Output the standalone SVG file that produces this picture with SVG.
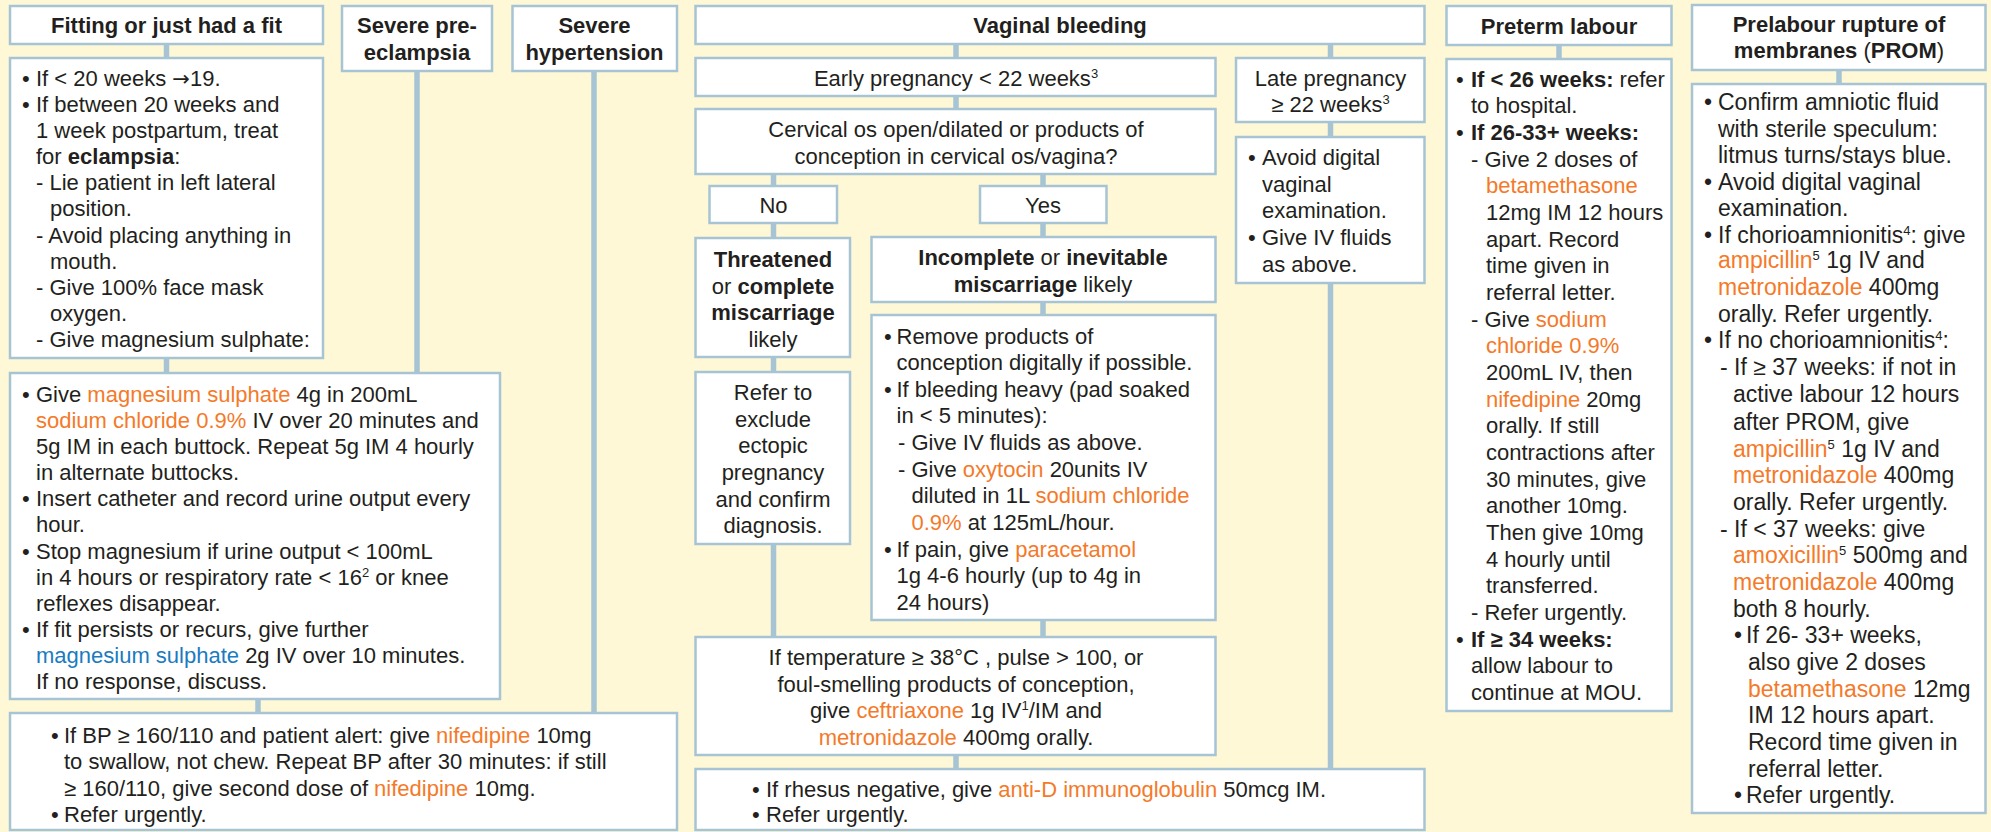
<svg xmlns="http://www.w3.org/2000/svg" width="1991" height="832" viewBox="0 0 1991 832">
<style>
.bg{fill:#fff8d6}
.bx{fill:#ffffff;stroke:#a6c4d4;stroke-width:2.5}
.cn{stroke:#a6c4d4;stroke-width:5.5;fill:none}
text{font-family:"Liberation Sans",Arial,sans-serif;font-size:22px;fill:#231f20}
.c{text-anchor:middle}
.b{font-weight:bold}
.o{fill:#f47a2a}
.u{fill:#1b7bc0}
.p{font-size:23px}
.ar{font-family:"DejaVu Sans",sans-serif;font-size:21px}
</style>
<rect class="bg" x="0" y="0" width="1991" height="832"/>
<g id="connectors">
<line class="cn" x1="166.5" y1="44" x2="166.5" y2="58"/>
<line class="cn" x1="166.5" y1="358" x2="166.5" y2="373"/>
<line class="cn" x1="417" y1="71" x2="417" y2="373"/>
<line class="cn" x1="594" y1="71" x2="594" y2="713"/>
<line class="cn" x1="258" y1="699" x2="258" y2="713"/>
<line class="cn" x1="956" y1="44" x2="956" y2="58"/>
<line class="cn" x1="1330.5" y1="44" x2="1330.5" y2="58"/>
<line class="cn" x1="956" y1="96" x2="956" y2="109"/>
<line class="cn" x1="773.5" y1="174" x2="773.5" y2="186"/>
<line class="cn" x1="1043" y1="174" x2="1043" y2="186"/>
<line class="cn" x1="773.5" y1="223" x2="773.5" y2="238"/>
<line class="cn" x1="1043" y1="223" x2="1043" y2="237"/>
<line class="cn" x1="773.5" y1="357" x2="773.5" y2="372"/>
<line class="cn" x1="1043" y1="302" x2="1043" y2="315"/>
<line class="cn" x1="773.5" y1="544" x2="773.5" y2="637"/>
<line class="cn" x1="1043" y1="620" x2="1043" y2="637"/>
<line class="cn" x1="956" y1="755" x2="956" y2="769"/>
<line class="cn" x1="1330.5" y1="122" x2="1330.5" y2="137"/>
<line class="cn" x1="1330.5" y1="283" x2="1330.5" y2="769"/>
<line class="cn" x1="1559" y1="45" x2="1559" y2="59"/>
<line class="cn" x1="1839" y1="70" x2="1839" y2="84"/>
</g>
<g id="fit-head">
<rect class="bx" x="10" y="6" width="313" height="38"/>
<text class="c b" x="166.5" y="33">Fitting or just had a fit</text>
</g>
<g id="fit-text">
<rect class="bx" x="10" y="58" width="313" height="300"/>
<text x="22" y="86">•</text><text x="36" y="86">If &lt; 20 weeks <tspan class="ar">→</tspan>19.</text>
<text x="22" y="112">•</text><text x="36" y="112">If between 20 weeks and</text>
<text x="36" y="138">1 week postpartum, treat</text>
<text x="36" y="164">for <tspan class="b">eclampsia</tspan>:</text>
<text x="36" y="190">- Lie patient in left lateral</text>
<text x="50" y="216">position.</text>
<text x="36" y="243">- Avoid placing anything in</text>
<text x="50" y="269">mouth.</text>
<text x="36" y="295">- Give 100% face mask</text>
<text x="50" y="321">oxygen.</text>
<text x="36" y="347">- Give magnesium sulphate:</text>
</g>
<g id="pre-eclampsia">
<rect class="bx" x="342" y="6" width="150" height="65"/>
<text class="c b" x="417" y="33">Severe pre-</text>
<text class="c b" x="417" y="60">eclampsia</text>
</g>
<g id="hypertension">
<rect class="bx" x="512.5" y="6" width="164.5" height="65"/>
<text class="c b" x="594.5" y="33">Severe</text>
<text class="c b" x="594.5" y="60">hypertension</text>
</g>
<g id="magnesium">
<rect class="bx" x="10" y="373" width="490" height="326"/>
<text x="22" y="402">•</text><text x="36" y="402">Give <tspan class="o">magnesium sulphate</tspan> 4g in 200mL</text>
<text x="36" y="428"><tspan class="o">sodium chloride 0.9%</tspan> IV over 20 minutes and</text>
<text x="36" y="454">5g IM in each buttock. Repeat 5g IM 4 hourly</text>
<text x="36" y="480">in alternate buttocks.</text>
<text x="22" y="506">•</text><text x="36" y="506">Insert catheter and record urine output every</text>
<text x="36" y="532">hour.</text>
<text x="22" y="559">•</text><text x="36" y="559">Stop magnesium if urine output &lt; 100mL</text>
<text x="36" y="585">in 4 hours or respiratory rate &lt; 16<tspan dy="-8" font-size="13">2</tspan><tspan dy="8"> or knee</tspan></text>
<text x="36" y="611">reflexes disappear.</text>
<text x="22" y="637">•</text><text x="36" y="637">If fit persists or recurs, give further</text>
<text x="36" y="663"><tspan class="u">magnesium sulphate</tspan> 2g IV over 10 minutes.</text>
<text x="36" y="689">If no response, discuss.</text>
</g>
<g id="bp">
<rect class="bx" x="10" y="713" width="667" height="117"/>
<text x="51" y="742.5">•</text><text x="64" y="742.5">If BP ≥ 160/110 and patient alert: give <tspan class="o">nifedipine</tspan> 10mg</text>
<text x="64" y="769">to swallow, not chew. Repeat BP after 30 minutes: if still</text>
<text x="64" y="795.5">≥ 160/110, give second dose of <tspan class="o">nifedipine</tspan> 10mg.</text>
<text x="51" y="822">•</text><text x="64" y="822">Refer urgently.</text>
</g>
<g id="vaginal-bleeding">
<rect class="bx" x="695.5" y="6" width="729" height="38"/>
<text class="c b" x="1060" y="33">Vaginal bleeding</text>
</g>
<g id="early">
<rect class="bx" x="695.5" y="58" width="520" height="38"/>
<text class="c" x="956" y="86">Early pregnancy &lt; 22 weeks<tspan dy="-8" font-size="13">3</tspan></text>
</g>
<g id="cervical">
<rect class="bx" x="695.5" y="109" width="520" height="65"/>
<text class="c" x="956" y="137">Cervical os open/dilated or products of</text>
<text class="c" x="956" y="163.5">conception in cervical os/vagina?</text>
</g>
<g id="late">
<rect class="bx" x="1236" y="58" width="188.5" height="64"/>
<text class="c" x="1330.5" y="86">Late pregnancy</text>
<text class="c" x="1330.5" y="112">≥ 22 weeks<tspan dy="-8" font-size="13">3</tspan></text>
</g>
<g id="late-text">
<rect class="bx" x="1236" y="137" width="188.5" height="146"/>
<text x="1248" y="165">•</text><text x="1262" y="165">Avoid digital</text>
<text x="1262" y="191.5">vaginal</text>
<text x="1262" y="218">examination.</text>
<text x="1248" y="245">•</text><text x="1262" y="245">Give IV fluids</text>
<text x="1262" y="271.5">as above.</text>
</g>
<g id="no">
<rect class="bx" x="709.5" y="186" width="127.5" height="37"/>
<text class="c" x="773.5" y="213">No</text>
</g>
<g id="yes">
<rect class="bx" x="980" y="186" width="126.5" height="37"/>
<text class="c" x="1043" y="213">Yes</text>
</g>
<g id="threatened">
<rect class="bx" x="695.5" y="238" width="154.5" height="119"/>
<text class="c b" x="773" y="266.5">Threatened</text>
<text class="c" x="773" y="293.5">or <tspan class="b">complete</tspan></text>
<text class="c b" x="773" y="320">miscarriage</text>
<text class="c" x="773" y="346.5">likely</text>
</g>
<g id="incomplete">
<rect class="bx" x="871.5" y="237" width="344" height="65"/>
<text class="c" x="1043" y="265"><tspan class="b">Incomplete</tspan> or <tspan class="b">inevitable</tspan></text>
<text class="c" x="1043" y="291.5"><tspan class="b">miscarriage</tspan> likely</text>
</g>
<g id="incomplete-text">
<rect class="bx" x="871.5" y="315" width="344" height="305"/>
<text x="884" y="343.5">•</text><text x="896.5" y="343.5">Remove products of</text>
<text x="896.5" y="370">conception digitally if possible.</text>
<text x="884" y="396.5">•</text><text x="896.5" y="396.5">If bleeding heavy (pad soaked</text>
<text x="896.5" y="423">in &lt; 5 minutes):</text>
<text x="898" y="450">- Give IV fluids as above.</text>
<text x="898" y="476.5">- Give <tspan class="o">oxytocin</tspan> 20units IV</text>
<text x="911.5" y="503">diluted in 1L <tspan class="o">sodium chloride</tspan></text>
<text x="911.5" y="529.5"><tspan class="o">0.9%</tspan> at 125mL/hour.</text>
<text x="884" y="556.5">•</text><text x="896.5" y="556.5">If pain, give <tspan class="o">paracetamol</tspan></text>
<text x="896.5" y="583">1g 4-6 hourly (up to 4g in</text>
<text x="896.5" y="609.5">24 hours)</text>
</g>
<g id="refer">
<rect class="bx" x="695.5" y="372" width="154.5" height="172"/>
<text class="c" x="773" y="400">Refer to</text>
<text class="c" x="773" y="426.5">exclude</text>
<text class="c" x="773" y="453">ectopic</text>
<text class="c" x="773" y="480">pregnancy</text>
<text class="c" x="773" y="506.5">and confirm</text>
<text class="c" x="773" y="533">diagnosis.</text>
</g>
<g id="temperature">
<rect class="bx" x="695.5" y="637" width="520" height="118"/>
<text class="c" x="956" y="665">If temperature ≥ 38°C , pulse &gt; 100, or</text>
<text class="c" x="956" y="691.5">foul-smelling products of conception,</text>
<text class="c" x="956" y="718">give <tspan class="o">ceftriaxone</tspan> 1g IV<tspan dy="-8" font-size="13">1</tspan><tspan dy="8">/IM and</tspan></text>
<text class="c" x="956" y="745"><tspan class="o">metronidazole</tspan> 400mg orally.</text>
</g>
<g id="rhesus">
<rect class="bx" x="695.5" y="769" width="729" height="61"/>
<text x="752" y="797">•</text><text x="766" y="797">If rhesus negative, give <tspan class="o">anti-D immunoglobulin</tspan> 50mcg IM.</text>
<text x="752" y="822">•</text><text x="766" y="822">Refer urgently.</text>
</g>
<g id="preterm-head">
<rect class="bx" x="1446.5" y="6" width="225" height="39"/>
<text class="c b" x="1559" y="34">Preterm labour</text>
</g>
<g id="preterm-text">
<rect class="bx" x="1446.5" y="59" width="225" height="652"/>
<text x="1456" y="86.7">•</text><text x="1471" y="86.7"><tspan class="b">If &lt; 26 weeks:</tspan> refer</text>
<text x="1471" y="113.3">to hospital.</text>
<text x="1456" y="140">•</text><text class="b" x="1471" y="140">If 26-33+ weeks:</text>
<text x="1471" y="166.7">- Give 2 doses of</text>
<text x="1486" y="193.3" class="o">betamethasone</text>
<text x="1486" y="220">12mg IM 12 hours</text>
<text x="1486" y="246.7">apart. Record</text>
<text x="1486" y="273.3">time given in</text>
<text x="1486" y="300">referral letter.</text>
<text x="1471" y="326.7">- Give <tspan class="o">sodium</tspan></text>
<text x="1486" y="353.3" class="o">chloride 0.9%</text>
<text x="1486" y="380">200mL IV, then</text>
<text x="1486" y="406.7"><tspan class="o">nifedipine</tspan> 20mg</text>
<text x="1486" y="433.3">orally. If still</text>
<text x="1486" y="460">contractions after</text>
<text x="1486" y="486.7">30 minutes, give</text>
<text x="1486" y="513.3">another 10mg.</text>
<text x="1486" y="540">Then give 10mg</text>
<text x="1486" y="566.7">4 hourly until</text>
<text x="1486" y="593.3">transferred.</text>
<text x="1471" y="620">- Refer urgently.</text>
<text x="1456" y="646.7">•</text><text class="b" x="1471" y="646.7">If ≥ 34 weeks:</text>
<text x="1471" y="673.3">allow labour to</text>
<text x="1471" y="700">continue at MOU.</text>
</g>
<g id="prom-head">
<rect class="bx" x="1692" y="5" width="293.5" height="65"/>
<text class="c b" x="1839" y="31.7">Prelabour rupture of</text>
<text class="c" x="1839" y="58.3"><tspan class="b">membranes</tspan> (<tspan class="b">PROM</tspan>)</text>
</g>
<g id="prom-text">
<rect class="bx" x="1692" y="84" width="293.5" height="729"/>
<text class="p" x="1704" y="110">•</text><text class="p" x="1718" y="110">Confirm amniotic fluid</text>
<text class="p" x="1718" y="136.7">with sterile speculum:</text>
<text class="p" x="1718" y="163.3">litmus turns/stays blue.</text>
<text class="p" x="1704" y="190">•</text><text class="p" x="1718" y="190">Avoid digital vaginal</text>
<text class="p" x="1718" y="216">examination.</text>
<text class="p" x="1704" y="242.7">•</text><text class="p" x="1718" y="242.7">If chorioamnionitis<tspan dy="-8" font-size="13">4</tspan><tspan dy="8">: give</tspan></text>
<text class="p" x="1718" y="268.3"><tspan class="o">ampicillin</tspan><tspan dy="-8" font-size="13">5</tspan><tspan dy="8"> 1g IV and</tspan></text>
<text class="p" x="1718" y="295"><tspan class="o">metronidazole</tspan> 400mg</text>
<text class="p" x="1718" y="321.7">orally. Refer urgently.</text>
<text class="p" x="1704" y="348.3">•</text><text class="p" x="1718" y="348.3">If no chorioamnionitis<tspan dy="-8" font-size="13">4</tspan><tspan dy="8">:</tspan></text>
<text class="p" x="1720" y="375">- If ≥ 37 weeks: if not in</text>
<text class="p" x="1733" y="401.7">active labour 12 hours</text>
<text class="p" x="1733" y="430">after PROM, give</text>
<text class="p" x="1733" y="456.7"><tspan class="o">ampicillin</tspan><tspan dy="-8" font-size="13">5</tspan><tspan dy="8"> 1g IV and</tspan></text>
<text class="p" x="1733" y="483.3"><tspan class="o">metronidazole</tspan> 400mg</text>
<text class="p" x="1733" y="510">orally. Refer urgently.</text>
<text class="p" x="1720" y="536.7">- If &lt; 37 weeks: give</text>
<text class="p" x="1733" y="563.3"><tspan class="o">amoxicillin</tspan><tspan dy="-8" font-size="13">5</tspan><tspan dy="8"> 500mg and</tspan></text>
<text class="p" x="1733" y="590"><tspan class="o">metronidazole</tspan> 400mg</text>
<text class="p" x="1733" y="616.7">both 8 hourly.</text>
<text class="p" x="1734" y="643.3">•</text><text class="p" x="1746" y="643.3">If 26- 33+ weeks,</text>
<text class="p" x="1748" y="670">also give 2 doses</text>
<text class="p" x="1748" y="696.7"><tspan class="o">betamethasone</tspan> 12mg</text>
<text class="p" x="1748" y="723.3">IM 12 hours apart.</text>
<text class="p" x="1748" y="750">Record time given in</text>
<text class="p" x="1748" y="776.7">referral letter.</text>
<text class="p" x="1734" y="803.3">•</text><text class="p" x="1746" y="803.3">Refer urgently.</text>
</g>
</svg>
